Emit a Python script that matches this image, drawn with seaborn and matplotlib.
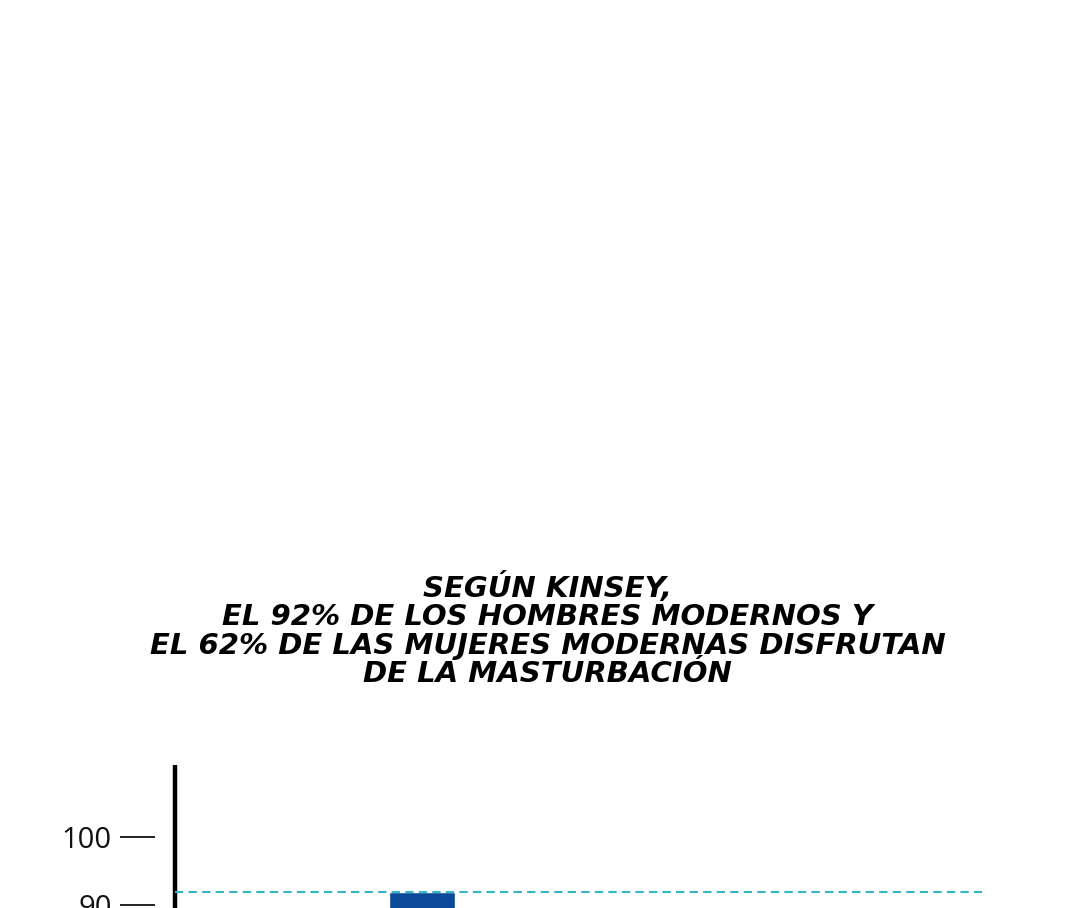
import matplotlib
matplotlib.use("Agg")
import matplotlib.pyplot as plt
import seaborn as sns

categories = ["Hombres", "Mujeres"]
percent = [92, 62]
y_ticks = [90, 100]

title = ("SEGÚN KINSEY,\n"
         "EL 92% DE LOS HOMBRES MODERNOS Y\n"
         "EL 62% DE LAS MUJERES MODERNAS DISFRUTAN\n"
         "DE LA MASTURBACIÓN")

BAR_COLOR = '#0b4a98'
LINE_COLOR = '#35b5c8'

sns.set_style('white')
plt.rcParams['font.family'] = ['Open Sans', 'DejaVu Sans']

fig = plt.figure(figsize=(10.8, 9.08), dpi=100)
fig.patch.set_facecolor('white')

# axes runs off the bottom of the picture, like the cropped original
ax = fig.add_axes([0.162, -0.676, 0.747, 0.8337])

sns.barplot(x=categories, y=percent, color=BAR_COLOR, saturation=1,
            width=0.4, ax=ax)

ax.axhline(percent[0], color=LINE_COLOR, lw=1.5, linestyle=(0, (4, 2.5)), zorder=3)

ax.set_ylim(0, 110.5)
ax.set_xlim(-1.5, 3.4)
ax.set_xticks([])
ax.set_xlabel('')
ax.set_ylabel('')

for side in ['top', 'right', 'bottom']:
    ax.spines[side].set_visible(False)
# detached tick marks: move the tick spine out, draw the heavy axis line separately
ax.spines['left'].set_position(('outward', 14.4))
ax.spines['left'].set_visible(False)

ax.set_yticks(y_ticks)
ax.set_yticklabels([str(v) for v in y_ticks])
ax.tick_params(axis='y', direction='out', length=25, width=1.4, color='#222222',
               pad=6, left=True, labelsize=21, labelcolor='#111111')
ax.plot([0, 0], [0, 1], transform=ax.transAxes, color='black', lw=3.2,
        clip_on=False, solid_capstyle='butt')

fig.text(0.507, 0.306, title, ha='center', va='center', fontsize=21,
         fontweight='bold', fontstyle='italic', family=['DejaVu Sans'],
         linespacing=1.02, color='black')

fig.savefig('out.png', dpi=100, facecolor='white')
